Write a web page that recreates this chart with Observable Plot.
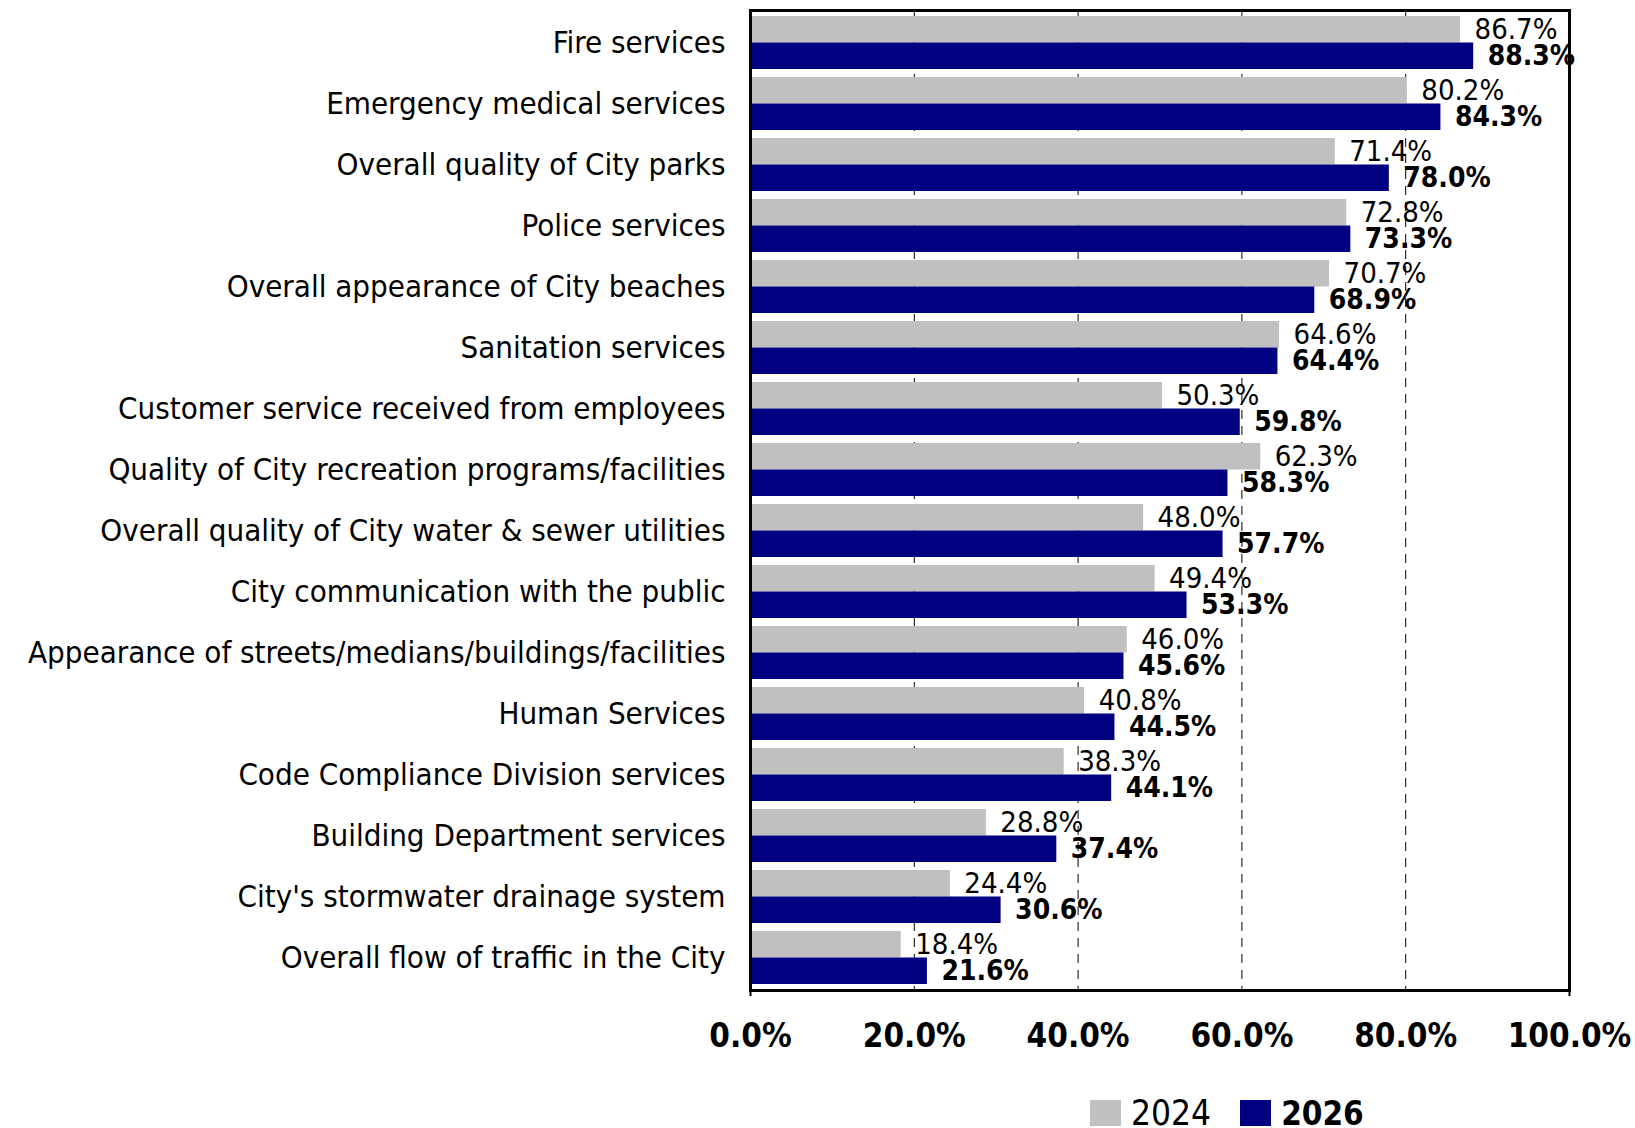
<!DOCTYPE html>
<html><head><meta charset="utf-8">
<script src="https://cdn.jsdelivr.net/npm/d3@7"></script>
<script src="https://cdn.jsdelivr.net/npm/@observablehq/plot@0.6"></script>
<style>
body{margin:0;background:#fff;}
#chart svg{display:block;}
.legend{display:flex;align-items:center;height:40px;margin-top:13px;padding-left:1090px;font-family:"DejaVu Sans Condensed","DejaVu Sans",sans-serif;font-size:35px;color:#000;}
.legend .sw{display:inline-block;width:31px;height:26px;margin-right:10px;}
.legend .item{display:flex;align-items:center;margin-right:29px;}
</style></head><body><div id="chart"></div><script>
const categories = [
  "Fire services",
  "Emergency medical services",
  "Overall quality of City parks",
  "Police services",
  "Overall appearance of City beaches",
  "Sanitation services",
  "Customer service received from employees",
  "Quality of City recreation programs/facilities",
  "Overall quality of City water & sewer utilities",
  "City communication with the public",
  "Appearance of streets/medians/buildings/facilities",
  "Human Services",
  "Code Compliance Division services",
  "Building Department services",
  "City's stormwater drainage system",
  "Overall flow of traffic in the City"
];
const values2024 = [86.7, 80.2, 71.4, 72.8, 70.7, 64.6, 50.3, 62.3, 48.0, 49.4, 46.0, 40.8, 38.3, 28.8, 24.4, 18.4];
const values2026 = [88.3, 84.3, 78.0, 73.3, 68.9, 64.4, 59.8, 58.3, 57.7, 53.3, 45.6, 44.5, 44.1, 37.4, 30.6, 21.6];
const seriesNames = ["2024", "2026"];
const seriesColors = ["#c0c0c0", "#000080"];
const xTicks = [0, 20, 40, 60, 80, 100];
const gridTicks = [20, 40, 60, 80];

const FONT = '"DejaVu Sans Condensed","DejaVu Sans",sans-serif';
const rows = categories.map((c, i) => ({category: c, a: values2024[i], b: values2026[i]}));
const half = 26.5;

const H = 1080, bottom = 990;
const chart = Plot.plot({
  width: 1635,
  height: H,
  marginLeft: 750,
  marginRight: 66,
  marginTop: 10,
  marginBottom: H - bottom,
  style: {fontFamily: FONT, background: "#fff", color: "#000"},
  x: {domain: [0, 100]},
  y: {domain: categories, paddingInner: 0.135, paddingOuter: 0.068},
  marks: [
    Plot.ruleX(gridTicks, {stroke: "#000", strokeWidth: 1, strokeDasharray: "9,7"}),
    Plot.barX(rows, {x: "a", y: "category", fill: seriesColors[0], insetBottom: half}),
    Plot.barX(rows, {x: "b", y: "category", fill: seriesColors[1], insetTop: half}),
    Plot.text(rows, {x: "a", y: "category", text: d => d.a.toFixed(1) + "%", dx: 14, dy: -half / 2, textAnchor: "start", fontSize: 29, fill: "#000"}),
    Plot.text(rows, {x: "b", y: "category", text: d => d.b.toFixed(1) + "%", dx: 14, dy: half / 2, textAnchor: "start", fontSize: 28, fontWeight: "bold", fill: "#000"}),
    Plot.axisY({tickSize: 0, tickPadding: 25, fontSize: 31, label: null}),
    Plot.axisX({ticks: xTicks, tickFormat: d => d.toFixed(1) + "%", tickSize: 0, tickPadding: 33, fontSize: 33, fontWeight: "bold", label: null}),
    Plot.axisX({ticks: [0, 100], tickSize: 6, strokeWidth: 2, text: null, label: null}),
    Plot.frame({stroke: "#000", strokeWidth: 3})
  ]
});
document.getElementById("chart").appendChild(chart);

const legend = document.createElement("div");
legend.className = "legend";
seriesNames.forEach((name, i) => {
  const item = document.createElement("span");
  item.className = "item";
  const sw = document.createElement("span");
  sw.className = "sw";
  sw.style.background = seriesColors[i];
  const t = document.createElement("span");
  t.textContent = name;
  if (i === 1) { t.style.fontWeight = "bold"; t.style.fontSize = "33px"; }
  item.appendChild(sw);
  item.appendChild(t);
  legend.appendChild(item);
});
document.getElementById("chart").appendChild(legend);
</script></body></html>
